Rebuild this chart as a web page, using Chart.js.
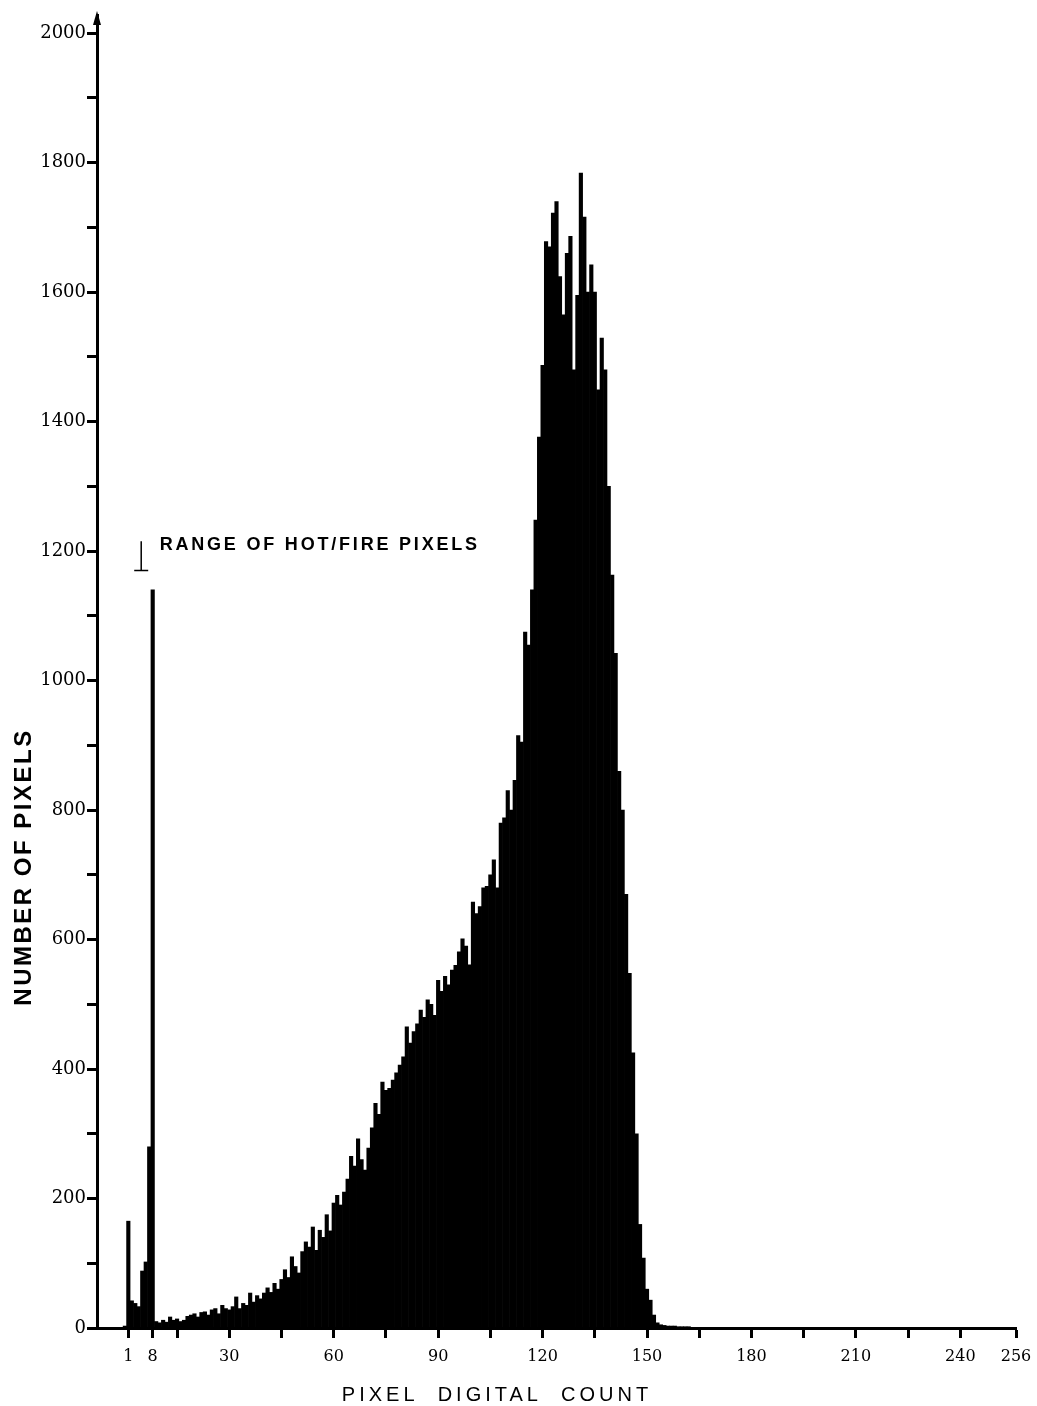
<!DOCTYPE html>
<html>
<head>
<meta charset="utf-8">
<script src="https://cdn.jsdelivr.net/npm/chart.js@4.4.1/dist/chart.umd.min.js"></script>
<style>
  html, body { margin: 0; padding: 0; background: #fff; }
  canvas { display: block; }
</style>
</head>
<body>
<canvas id="histChart" width="1037" height="1406"></canvas>
<script>
// number of pixels for each digital count, starting at count 0
const firstCount = 0
const pixelCounts = [
  3, 165, 42, 38, 33, 88, 102, 280, 1140, 10,
  8, 12, 9, 17, 12, 14, 10, 12, 18, 20,
  22, 17, 24, 25, 20, 28, 30, 22, 35, 30,
  28, 33, 48, 30, 38, 35, 54, 40, 50, 45,
  54, 62, 55, 69, 60, 75, 90, 78, 110, 95,
  85, 118, 133, 125, 156, 120, 151, 140, 175, 150,
  193, 205, 190, 210, 230, 265, 250, 292, 260, 244,
  278, 309, 347, 330, 380, 367, 370, 383, 394, 406,
  419, 465, 440, 458, 470, 491, 480, 507, 500, 483,
  537, 520, 543, 530, 553, 560, 581, 601, 590, 561,
  658, 640, 651, 680, 682, 700, 723, 680, 780, 788,
  830, 800, 846, 915, 905, 1075, 1055, 1140, 1248, 1376,
  1487, 1678, 1670, 1722, 1740, 1624, 1565, 1660, 1686, 1480,
  1595, 1784, 1716, 1600, 1642, 1600, 1449, 1529, 1480, 1300,
  1163, 1042, 860, 800, 670, 548, 425, 300, 160, 108,
  60, 43, 20, 8, 5, 4, 3, 3, 3, 2,
  2, 2, 2, 1, 1, 1
]

// tick marks on the count axis, and the ones that carry a number
const xTicks = [1, 8, 15, 30, 45, 60, 75, 90, 105, 120, 135, 150, 165, 180, 195, 210, 225, 240, 256]
const xLabelled = [1, 8, 30, 60, 90, 120, 150, 180, 210, 240, 256]
const yTicks = [0, 100, 200, 300, 400, 500, 600, 700, 800, 900, 1000, 1100, 1200, 1300, 1400, 1500, 1600, 1700, 1800, 1900, 2000]
const yLabelled = [0, 200, 400, 600, 800, 1000, 1200, 1400, 1600, 1800, 2000]

const xTitle = 'PIXEL  DIGITAL  COUNT'
const yTitle = 'NUMBER OF PIXELS'
const noteText = 'RANGE OF HOT/FIRE PIXELS'

const points = pixelCounts.map((v, i) => ({x: firstCount + i, y: v}))

const decorations = {
  id: 'decorations',
  afterDraw(chart) {
    const {ctx, scales: {x, y}} = chart
    ctx.save()
    ctx.fillStyle = '#000'
    ctx.strokeStyle = '#000'

    // arrow head at the top of the y axis
    const ax = x.left
    ctx.beginPath()
    ctx.moveTo(ax, y.top - 4)
    ctx.lineTo(ax - 4, y.top + 10)
    ctx.lineTo(ax + 4, y.top + 10)
    ctx.closePath()
    ctx.fill()

    // hot/fire range marker
    const mx = x.getPixelForValue(4.7)
    const my = y.getPixelForValue(1170)
    ctx.lineWidth = 1.5
    ctx.beginPath()
    ctx.moveTo(mx, y.getPixelForValue(1215))
    ctx.lineTo(mx, my)
    ctx.moveTo(mx - 7, my)
    ctx.lineTo(mx + 7, my)
    ctx.stroke()

    ctx.textBaseline = 'middle'
    ctx.textAlign = 'left'
    ctx.font = 'bold 18px "Liberation Sans", Arial, sans-serif'
    ctx.letterSpacing = '2.8px'
    ctx.fillText(noteText, x.getPixelForValue(10), y.getPixelForValue(1210))

    // axis titles
    ctx.textAlign = 'center'
    ctx.font = '20px "Liberation Sans", Arial, sans-serif'
    ctx.letterSpacing = '4px'
    ctx.fillText(xTitle, 497, 1395)

    ctx.translate(24, 867)
    ctx.rotate(-Math.PI / 2)
    ctx.font = 'bold 24px "Liberation Sans", Arial, sans-serif'
    ctx.letterSpacing = '2.5px'
    ctx.fillText(yTitle, 0, 0)
    ctx.restore()
  }
}

const ctx = document.getElementById('histChart').getContext('2d')

new Chart(ctx, {
  type: 'bar',
  data: {
    datasets: [{
      data: points,
      backgroundColor: '#000',
      borderWidth: 0,
      barPercentage: 1.0,
      categoryPercentage: 1.0
    }]
  },
  options: {
    responsive: false,
    animation: false,
    layout: {padding: {left: 0, top: 15, right: 21, bottom: 0}},
    plugins: {
      legend: {display: false},
      tooltip: {enabled: false}
    },
    scales: {
      x: {
        type: 'linear',
        min: -8,
        max: 256,
        offset: false,
        afterBuildTicks: s => { s.ticks = xTicks.map(v => ({value: v})) },
        afterFit: s => { s.height = 78; s.paddingLeft = 0; s.paddingRight = 0 },
        border: {display: true, color: '#000', width: 3},
        grid: {display: true, offset: false, drawOnChartArea: false, drawTicks: true, tickLength: 10, tickWidth: 3, tickColor: '#000'},
        ticks: {
          autoSkip: false,
          maxRotation: 0,
          padding: 9,
          color: '#000',
          font: {family: '"DejaVu Serif", serif', size: 16},
          callback: v => xLabelled.includes(v) ? String(v) : ''
        }
      },
      y: {
        type: 'linear',
        min: 0,
        max: 2028,
        afterBuildTicks: s => { s.ticks = yTicks.map(v => ({value: v})) },
        afterFit: s => { s.width = 97; s.paddingTop = 0; s.paddingBottom = 0 },
        border: {display: true, color: '#000', width: 3},
        grid: {display: true, drawOnChartArea: false, drawTicks: true, tickLength: 10, tickWidth: 3, tickColor: '#000'},
        ticks: {
          autoSkip: false,
          padding: 1,
          color: '#000',
          font: {family: '"DejaVu Serif", serif', size: 18},
          callback: v => yLabelled.includes(v) ? String(v) : ''
        }
      }
    }
  },
  plugins: [decorations]
})
</script>
</body>
</html>
